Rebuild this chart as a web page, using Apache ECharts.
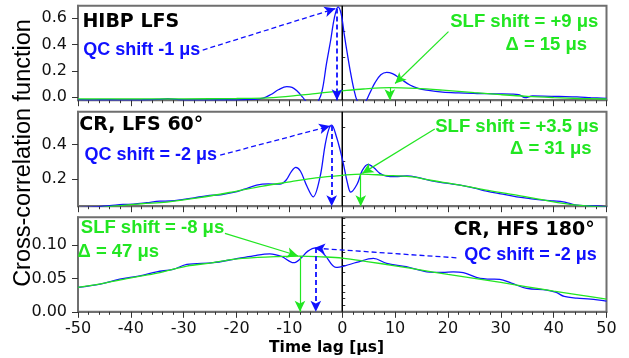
<!DOCTYPE html>
<html>
<head>
<meta charset="utf-8">
<script src="https://cdn.jsdelivr.net/npm/echarts@6/dist/echarts.min.js"></script>
<style>
  html, body { margin: 0; padding: 0; background: #fff; }
  #chart { width: 629px; height: 358px; }
</style>
</head>
<body>
<div id="chart"></div>
<script>
// Time lag axis [µs]
const lagMin = -50, lagMax = 50, lagStep = 10;

// HIBP LFS: quasi-coherent correlation (blue) and slow-fluctuation envelope (green)
const hibpQC = [[-50,-0.018],[-47,-0.02],[-44,-0.019],[-41,-0.021],[-38,-0.02],[-35,-0.017],[-33,-0.011],[-31,-0.018],[-28,-0.021],[-24,-0.019],[-20,-0.02],[-17,-0.017],[-15,-0.008],[-13.5,0.02],[-12,0.058],[-10.5,0.08],[-9.5,0.075],[-8.5,0.045],[-7.5,0.0],[-6.5,-0.045],[-5.5,-0.06],[-4.6,-0.035],[-3.8,0.05],[-3.0,0.25],[-2.2,0.43],[-1.5,0.6],[-0.8,0.685],[-0.2,0.63],[0.4,0.47],[1.0,0.32],[1.6,0.18],[2.2,0.06],[2.8,-0.025],[3.6,-0.06],[4.4,-0.035],[5.2,0.03],[6.2,0.11],[7.3,0.17],[8.4,0.188],[9.5,0.178],[11,0.14],[12.8,0.092],[14.5,0.065],[16,0.053],[19,0.038],[22,0.032],[25.5,0.028],[29,0.025],[32,0.023],[33.4,0.02],[34.6,-0.004],[36,0.009],[38,0.008],[41,0.005],[44.4,0.002],[47,-0.004],[50,-0.01]];
const hibpSLF = [[-50,-0.013],[-40,-0.013],[-30,-0.013],[-20,-0.01],[-14,-0.005],[-8,0.015],[-4,0.032],[0,0.048],[4,0.062],[9,0.072],[14,0.066],[19,0.053],[25,0.034],[30,0.019],[35,0.006],[40,-0.003],[45,-0.01],[50,-0.014]];

// CR, LFS 60°
const lfsQC = [[-50,0.036],[-47,0.04],[-44,0.047],[-41.5,0.054],[-39.5,0.056],[-37,0.064],[-34.5,0.073],[-32.5,0.074],[-30,0.083],[-28,0.092],[-25.7,0.104],[-23,0.11],[-20.6,0.123],[-18.5,0.142],[-16.2,0.165],[-14,0.172],[-11.8,0.171],[-10.6,0.195],[-9.6,0.245],[-8.8,0.267],[-7.9,0.245],[-6.7,0.16],[-5.5,0.098],[-4.2,0.213],[-3.3,0.386],[-2.6,0.482],[-2.0,0.511],[-1.1,0.444],[-0.4,0.367],[0.2,0.29],[1.0,0.175],[1.6,0.125],[2.8,0.17],[3.8,0.25],[4.9,0.285],[6,0.265],[7.1,0.233],[8.4,0.217],[10,0.214],[12.2,0.219],[14,0.212],[17.2,0.188],[20,0.175],[22.3,0.165],[25,0.148],[27.3,0.131],[30,0.115],[33,0.098],[35.5,0.088],[38,0.079],[40,0.074],[41.8,0.069],[43,0.06],[44.4,0.05],[46,0.047],[48.1,0.046],[50,0.04]];
const lfsSLF = [[-50,0.02],[-43.4,0.044],[-38,0.058],[-33.2,0.068],[-27,0.093],[-20.6,0.127],[-15,0.16],[-9.9,0.184],[-5,0.207],[0,0.222],[3.7,0.229],[8,0.222],[12.8,0.214],[17,0.192],[22.3,0.165],[27,0.138],[33,0.108],[38,0.08],[44.4,0.05],[50,0.038]];

// CR, HFS 180°
const hfsQC = [[-50,0.0366],[-45.8,0.0416],[-42.1,0.049],[-38.3,0.054],[-35.1,0.06],[-32,0.0637],[-29.4,0.071],[-24.4,0.0736],[-20.6,0.0787],[-16.8,0.084],[-13.7,0.087],[-11.5,0.083],[-9.2,0.0736],[-8,0.079],[-6.5,0.091],[-5,0.096],[-3.3,0.085],[-1.2,0.0667],[0.5,0.069],[2.7,0.074],[5.9,0.08],[8.4,0.0727],[12.1,0.0676],[16,0.06],[19,0.059],[21,0.06],[22.9,0.0586],[26.1,0.05],[28,0.049],[29.8,0.0486],[32,0.043],[34.9,0.035],[38.7,0.0326],[40.5,0.029],[42,0.023],[44.4,0.0205],[47,0.019],[50,0.016]];
const hfsSLF = [[-50,0.0366],[-45,0.043],[-39.5,0.0516],[-35,0.058],[-29.4,0.0686],[-25,0.073],[-20.6,0.0787],[-16,0.0815],[-12,0.0828],[-8,0.0836],[-4,0.0825],[0,0.0806],[5,0.075],[10,0.069],[15,0.0625],[20,0.056],[25,0.05],[30,0.044],[35,0.0375],[40,0.031],[45,0.025],[50,0.019]];

// Vertical ranges and tick values of the three panels
const yRanges = [[-0.023, 0.694], [0.044, 0.588], [0, 0.1417]];
const yMajorTicks = [[0, 0.2, 0.4, 0.6], [0.2, 0.4], [0, 0.05, 0.1]];
const yMinorTicks = [[0.1, 0.3, 0.5], [0.1, 0.3, 0.5], [0.01, 0.02, 0.03, 0.04, 0.06, 0.07, 0.08, 0.09, 0.11, 0.12, 0.13, 0.14]];
const yDecimals = [1, 1, 2];

// Shift annotations: peak lag of the QC and SLF correlation, with the arrow run from each caption
const qcLag = [-1, -2, -5];
const qcPeak = [0.672, 0.505, 0.0955];
const qcFrom = [[-26.4, 0.357], [-23.1, 0.338], [21.6, 0.081]];
const slfLag = [9, 3.5, -8];
const slfLevel = [0.074, 0.229, 0.0836];
const slfFrom = [[20.1, 0.497], [17.5, 0.488], [-22.2, 0.1177]];
const slfTo = [[10, 0.104], [3.8, 0.233], [-8.4, 0.084]];

// Zero-lag reference
const zeroLag = 0;

const qcSeries = [hibpQC, lfsQC, hfsQC];
const slfSeries = [hibpSLF, lfsSLF, hfsSLF];

const BLUE = '#1010ff';
const GREEN = '#22e622';
const FRAME = '#6f6f6f';
const TICK_FONT = 'DejaVu Sans';

const gridTops = [5.7, 111.7, 217.3];
const grids = gridTops.map(t => ({
  left: 78, right: 22.5, top: t, height: 94.5,
  show: true, borderColor: FRAME, borderWidth: 2, backgroundColor: '#fff'
}));

const xAxes = gridTops.map((_, i) => ({
  type: 'value', gridIndex: i, min: lagMin, max: lagMax, interval: lagStep,
  axisLine: { show: true, onZero: false, lineStyle: { color: FRAME, width: 2 } },
  axisTick: { show: true, inside: false, length: 6, lineStyle: { color: '#333', width: 1 } },
  minorTick: { show: true, splitNumber: 5, length: 3, lineStyle: { color: '#333', width: 1 } },
  splitLine: { show: false },
  minorSplitLine: { show: false },
  axisLabel: {
    show: i === 2, margin: 9, color: '#111', fontFamily: TICK_FONT, fontSize: 16
  }
}));

const yAxes = [];
yRanges.forEach((r, i) => {
  yAxes.push({
    type: 'value', gridIndex: i, min: r[0], max: r[1],
    axisLine: { show: true, onZero: false, lineStyle: { color: FRAME, width: 2 } },
    axisTick: { show: true, inside: false, length: 6, customValues: yMajorTicks[i], lineStyle: { color: '#333', width: 1 } },
    axisLabel: {
      show: true, margin: 11, color: '#111', fontFamily: TICK_FONT, fontSize: 16,
      customValues: yMajorTicks[i],
      formatter: v => v.toFixed(yDecimals[i])
    },
    splitLine: { show: false }
  });
  yAxes.push({
    type: 'value', gridIndex: i, min: r[0], max: r[1],
    axisLine: { show: false },
    axisTick: { show: true, inside: false, length: 3, customValues: yMinorTicks[i], lineStyle: { color: '#333', width: 1 } },
    axisLabel: { show: false, customValues: yMinorTicks[i] },
    splitLine: { show: false }
  });
});

const series = [];
yRanges.forEach((r, i) => {
  const bottom = r[0];
  // black zero-lag line across the panel
  series.push({
    type: 'line', xAxisIndex: i, yAxisIndex: 2 * i,
    data: [[zeroLag, r[0]], [zeroLag, r[1]]],
    showSymbol: false, animation: false, silent: true, z: 2,
    lineStyle: { color: '#000', width: 1.5 }
  });
  series.push({
    type: 'line', xAxisIndex: i, yAxisIndex: 2 * i, data: qcSeries[i],
    smooth: 0.35, showSymbol: false, clip: true, animation: false, z: 3,
    lineStyle: { color: BLUE, width: 1.3 },
    markLine: {
      silent: true, animation: false, label: { show: false },
      symbol: ['none', 'arrow'], symbolSize: [8, 11],
      lineStyle: { color: BLUE, width: 1.3, type: [5, 3] },
      emphasis: { disabled: true },
      data: [
        [{ coord: qcFrom[i] }, { coord: [qcLag[i] - 0.3, qcPeak[i]] }],
        [{ coord: [qcLag[i], qcPeak[i]], lineStyle: { color: BLUE, width: 1.8, type: [5, 3] } },
         { coord: [qcLag[i], bottom] }]
      ]
    }
  });
  series.push({
    type: 'line', xAxisIndex: i, yAxisIndex: 2 * i, data: slfSeries[i],
    smooth: 0.35, showSymbol: false, clip: true, animation: false, z: 4,
    lineStyle: { color: GREEN, width: 1.3 },
    markLine: {
      silent: true, animation: false, label: { show: false },
      symbol: ['none', 'arrow'], symbolSize: [8, 11],
      lineStyle: { color: GREEN, width: 1.2, type: 'solid' },
      emphasis: { disabled: true },
      data: [
        [{ coord: slfFrom[i] }, { coord: slfTo[i] }],
        [{ coord: [slfLag[i], slfLevel[i]] }, { coord: [slfLag[i], bottom] }]
      ]
    }
  });
});

// Captions drawn over the panels
const captions = [
  { text: 'HIBP LFS', x: 130.8, y: 22.3, color: '#000', font: 'bold 19px "DejaVu Sans"' },
  { text: 'QC shift -1 \u03bcs', x: 141.7, y: 50.5, color: BLUE, font: 'bold 18px "Liberation Sans"' },
  { text: 'SLF shift = +9 \u03bcs', x: 524.3, y: 21.7, color: GREEN, font: 'bold 18.5px "Liberation Sans"' },
  { text: '\u0394 = 15 \u03bcs', x: 546.3, y: 45.4, color: GREEN, font: 'bold 18.5px "Liberation Sans"' },
  { text: 'CR, LFS 60\u00b0', x: 141.3, y: 125, color: '#000', font: 'bold 19px "DejaVu Sans"' },
  { text: 'QC shift = -2 \u03bcs', x: 150.8, y: 155, color: BLUE, font: 'bold 18px "Liberation Sans"' },
  { text: 'SLF shift = +3.5 \u03bcs', x: 517, y: 126.7, color: GREEN, font: 'bold 18.5px "Liberation Sans"' },
  { text: '\u0394 = 31 \u03bcs', x: 550.8, y: 149.3, color: GREEN, font: 'bold 18.5px "Liberation Sans"' },
  { text: 'SLF shift = -8 \u03bcs', x: 152.5, y: 228.3, color: GREEN, font: 'bold 18.5px "Liberation Sans"' },
  { text: '\u0394 = 47 \u03bcs', x: 118.3, y: 251.7, color: GREEN, font: 'bold 18.5px "Liberation Sans"' },
  { text: 'CR, HFS 180\u00b0', x: 524.2, y: 230, color: '#000', font: 'bold 19px "DejaVu Sans"' },
  { text: 'QC shift = -2 \u03bcs', x: 530.5, y: 255, color: BLUE, font: 'bold 18px "Liberation Sans"' }
];

const graphic = captions.map(c => ({
  type: 'text', x: c.x, y: c.y, z: 100, silent: true,
  style: { text: c.text, fill: c.color, font: c.font, align: 'center', verticalAlign: 'middle',
           textAlign: 'center', textVerticalAlign: 'middle' }
}));
graphic.push({
  type: 'text', x: 326.5, y: 348, z: 100, silent: true,
  style: { text: 'Time lag [\u03bcs]', fill: '#000', font: 'bold 15.5px "DejaVu Sans"',
           align: 'center', verticalAlign: 'middle', textAlign: 'center', textVerticalAlign: 'middle' }
});
graphic.push({
  type: 'text', x: 23.5, y: 153, rotation: Math.PI / 2, z: 100, silent: true,
  style: { text: 'Cross-correlation function', fill: '#000', font: '23.5px "Liberation Sans"',
           align: 'center', verticalAlign: 'middle', textAlign: 'center', textVerticalAlign: 'middle' }
});

const chart = echarts.init(document.getElementById('chart'), null, { renderer: 'canvas' });
chart.setOption({
  animation: false,
  backgroundColor: '#fff',
  grid: grids,
  xAxis: xAxes,
  yAxis: yAxes,
  series: series,
  graphic: graphic
});
</script>
</body>
</html>
